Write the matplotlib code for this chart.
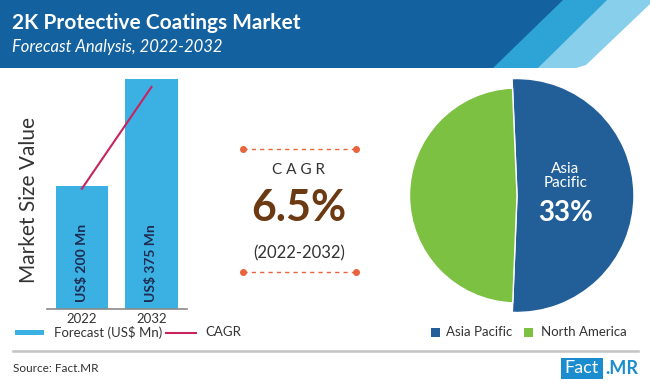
import matplotlib
matplotlib.use("Agg")
import matplotlib.pyplot as plt
from matplotlib.patches import Polygon, Rectangle

plt.rcParams["font.family"] = ["Lato", "DejaVu Sans"]

# data
YEARS = ["2022", "2032"]
MARKET = [200, 375]            # US$ Mn
BAR_LABELS = ["US$ 200 Mn", "US$ 375 Mn"]
CAGR_LINE = [196, 362]         # trend line as drawn over the bars
REGIONS = ["Asia Pacific", "North America"]
SHARES = [51.3, 48.7]          # slice sizes as drawn
AP_LABEL = "33%"
CAGR_TEXT = "6.5%"
PERIOD = "(2022-2032)"

DARK = "#13619e"
MID = "#2ea3d6"
LIGHT = "#87cfea"
BAR = "#3bb0e3"
LINE = "#c8235f"
PIE_BLUE = "#225f98"
PIE_GREEN = "#7cc142"
ORANGE = "#e8643c"
BROWN = "#6b3a12"
INK = "#333333"
LOGO = "#1b8dcf"

W, H = 650, 388
fig = plt.figure(figsize=(W / 100, H / 100), dpi=100)

# background / decoration layer in pixel coordinates
bg = fig.add_axes([0, 0, 1, 1])
bg.set_xlim(0, W)
bg.set_ylim(H, 0)
bg.axis("off")
bg.add_patch(Polygon([(600, 0), (650, 0), (650, 4), (586, 65), (576, 68), (530, 68)],
                     color=LIGHT, lw=0))
bg.add_patch(Polygon([(555, 0), (607, 0), (538, 68), (488, 68)], color=MID, lw=0))
bg.add_patch(Polygon([(0, 0), (563, 0), (493, 68), (0, 68)], color=DARK, lw=0))
bg.text(12, 23, "2K Protective Coatings Market", color="white", fontsize=15,
        fontweight="bold", va="center", ha="left")
bg.text(12, 47, "Forecast Analysis, 2022-2032", color="white", fontsize=12,
        style="italic", va="center", ha="left")

# CAGR block
for yy in (149, 272):
    bg.plot([243, 356], [yy, yy], color=ORANGE, lw=1, ls=(0, (3, 3)))
    bg.plot([243, 356], [yy, yy], "o", color=ORANGE, ms=4, ls="none")
bg.text(299, 170, "C A G R", color=INK, fontsize=11, ha="center", va="center")
bg.text(299, 208, CAGR_TEXT, color=BROWN, fontsize=31, fontweight="bold",
        ha="center", va="center")
bg.text(299, 253, PERIOD, color=INK, fontsize=12, ha="center", va="center")

# y label
bg.text(29, 200, "Market Size Value", color=INK, fontsize=15,
        rotation=90, ha="center", va="center")

# legends
bg.add_patch(Rectangle((15, 330), 29, 5, color=BAR, lw=0))
bg.text(54, 332.5, "Forecast (US$ Mn)", color=INK, fontsize=9.5, va="center")
bg.plot([166, 196], [332.5, 332.5], color=LINE, lw=1.5)
bg.text(205, 332.5, "CAGR", color=INK, fontsize=9.5, va="center")
bg.add_patch(Rectangle((431, 328), 9, 9, color=PIE_BLUE, lw=0))
bg.text(446, 332.5, REGIONS[0], color=INK, fontsize=9.5, va="center")
bg.add_patch(Rectangle((524, 328), 9, 9, color=PIE_GREEN, lw=0))
bg.text(541, 332.5, REGIONS[1], color=INK, fontsize=9.5, va="center")

bg.plot([13, 638], [351, 351], color="#c4c4c4", lw=1.8)
bg.text(13, 368, "Source: Fact.MR", color=INK, fontsize=8.5, va="center")
bg.add_patch(Rectangle((561, 358), 42, 21, color=LOGO, lw=0))
bg.text(582, 368, "Fact", color="white", fontsize=13, ha="center", va="center")
bg.text(605, 368, ".MR", color=LOGO, fontsize=13, fontweight="bold",
        ha="left", va="center")

# bar chart
ax = fig.add_axes([47 / W, (H - 309) / H, 140 / W, 230 / H])
x = range(len(YEARS))
ax.bar(x, MARKET, width=0.75, color=BAR, zorder=2)
ax.plot(x, CAGR_LINE, color=LINE, lw=1.5, zorder=3)
for i, lab in enumerate(BAR_LABELS):
    ax.text(i, 11, lab, rotation=90, ha="center", va="bottom", fontsize=10,
            fontweight="bold", color="#1d2b4f", zorder=4)
ax.set_xlim(-0.5, 1.51)
ax.set_ylim(0, 375)
ax.set_xticks(list(x))
ax.set_xticklabels(YEARS, fontsize=9.5, color=INK)
ax.tick_params(length=0, pad=3)
ax.set_yticks([])
for s in ("top", "right", "left"):
    ax.spines[s].set_visible(False)
ax.spines["bottom"].set_color("#8a8a8a")
ax.spines["bottom"].set_linewidth(1.2)
ax.patch.set_alpha(0)

# pie
R = 107.5
cx, cy = 517, 195.5
pax = fig.add_axes([(cx - 1.1 * R) / W, (H - cy - 1.1 * R) / H, 2.2 * R / W, 2.2 * R / H])
wedges, _ = pax.pie(SHARES, colors=[PIE_BLUE, PIE_GREEN], startangle=92.4,
                    counterclock=False, radius=1,
                    wedgeprops=dict(edgecolor="white", linewidth=1))
wedges[0].set_radius(1.088)
pax.set_xlim(-1.1, 1.1)
pax.set_ylim(-1.1, 1.1)
pax.set_aspect("equal")
pax.axis("off")
pax.text(0.45, 0.18, "Asia\nPacific", color="white", fontsize=11, ha="center",
         va="center", linespacing=1.0)
pax.text(0.45, -0.165, AP_LABEL, color="white", fontsize=20, fontweight="bold",
         ha="center", va="center")

fig.savefig("out.png", dpi=100)
